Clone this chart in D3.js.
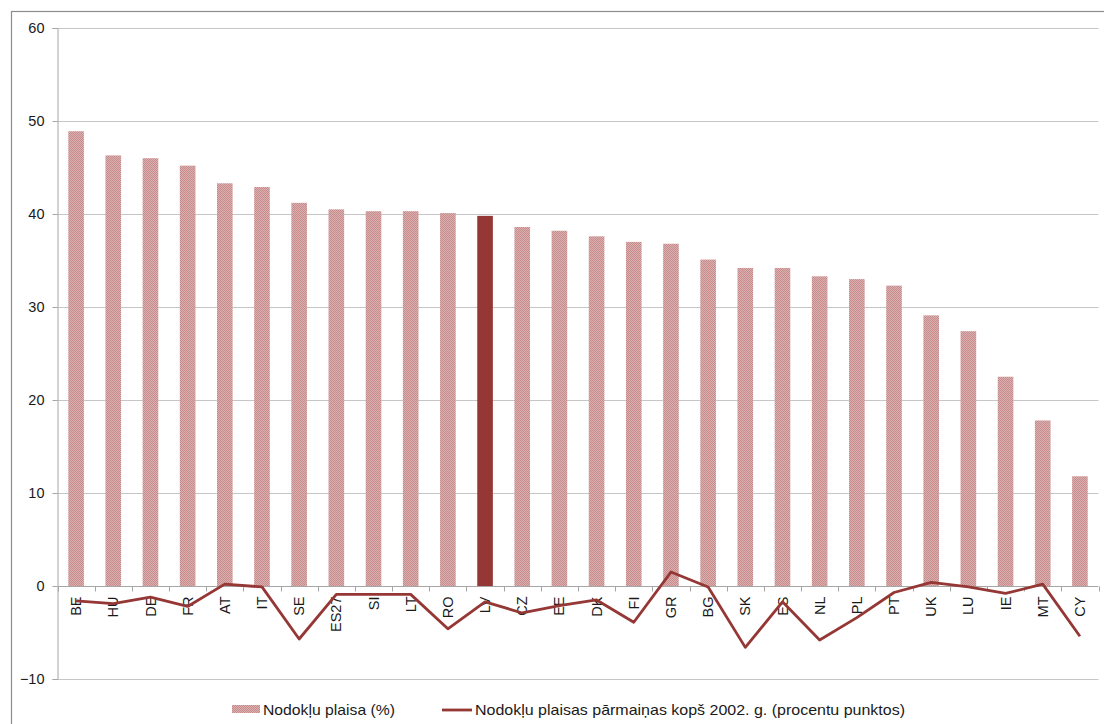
<!DOCTYPE html>
<html><head><meta charset="utf-8">
<script src="https://cdn.jsdelivr.net/npm/d3@7"></script>
<style>
html,body{margin:0;padding:0;background:#fff;}
svg{display:block;font-family:"Liberation Sans",Arial,sans-serif;}
</style></head>
<body>
<svg id="chart" width="1104" height="724"></svg>
<script>
const categories = ["BE","HU","DE","FR","AT","IT","SE","ES27","SI","LT","RO","LV","CZ","EE","DK","FI","GR","BG","SK","ES","NL","PL","PT","UK","LU","IE","MT","CY"];
const gapValues = [48.9,46.3,46.0,45.2,43.3,42.9,41.2,40.5,40.3,40.3,40.1,39.8,38.6,38.2,37.6,37.0,36.8,35.1,34.2,34.2,33.3,33.0,32.3,29.1,27.4,22.5,17.8,11.8];
const changeValues = [-1.6,-1.9,-1.2,-2.2,0.2,-0.1,-5.7,-0.9,-0.9,-0.9,-4.6,-1.7,-2.9,-2.1,-1.5,-3.9,1.5,-0.1,-6.6,-1.7,-5.8,-3.4,-0.7,0.4,-0.1,-0.8,0.2,-5.4];
const yTicks = [-10,0,10,20,30,40,50,60];
const highlight = "LV";
const legendLabels = ["Nodokļu plaisa (%)","Nodokļu plaisas pārmaiņas kopš 2002. g. (procentu punktos)"];

const svg = d3.select("#chart");
const m = {left:57.5, right:1098.5, top:28, bottom:679};
const x = d3.scaleBand().domain(categories).range([m.left, m.right]).paddingInner(0.58).paddingOuter(0.29);
const y = d3.scaleLinear().domain([-10,60]).range([m.bottom, m.top]);

const defs = svg.append("defs");
const pat = defs.append("pattern").attr("id","chk").attr("width",2).attr("height",2).attr("patternUnits","userSpaceOnUse");
pat.append("rect").attr("width",2).attr("height",2).attr("fill","#dbb0b0");
pat.append("rect").attr("width",1).attr("height",1).attr("fill","#c78b8b");
pat.append("rect").attr("x",1).attr("y",1).attr("width",1).attr("height",1).attr("fill","#c78b8b");

// outer frame
svg.append("rect").attr("x",11.5).attr("y",11.5).attr("width",1200).attr("height",800)
  .attr("fill","none").attr("stroke","#8c8c8c").attr("stroke-width",1.2);

// gridlines
svg.append("g").selectAll("line").data(yTicks.filter(d=>d!==0)).join("line")
  .attr("x1",m.left).attr("x2",m.right)
  .attr("y1",d=>Math.round(y(d))+0.5).attr("y2",d=>Math.round(y(d))+0.5)
  .attr("stroke","#c6c6c6").attr("stroke-width",1);

// y axis
const yAxis = svg.append("g").attr("transform",`translate(${m.left},0)`)
  .call(d3.axisLeft(y).tickValues(yTicks).tickSize(5).tickPadding(8).tickFormat(d3.format("d")));
yAxis.select(".domain").attr("stroke","#a6a6a6");
yAxis.selectAll(".tick line").attr("stroke","#a6a6a6");
yAxis.selectAll(".tick text").attr("font-size","14.5px").attr("fill","#1a1a1a").attr("font-family","Liberation Sans, Arial, sans-serif");
yAxis.selectAll(".tick").attr("transform",d=>`translate(0,${Math.round(y(d))+0.5})`);

// bars
svg.append("g").selectAll("rect").data(categories).join("rect")
  .attr("x",d=>x(d)).attr("width",x.bandwidth())
  .attr("y",(d,i)=>y(gapValues[i])).attr("height",(d,i)=>y(0)-y(gapValues[i]))
  .attr("fill",d=>d===highlight?"#953735":"url(#chk)");

// x axis at 0
const y0 = Math.round(y(0))+0.5;
svg.append("line").attr("x1",m.left).attr("x2",m.right).attr("y1",y0).attr("y2",y0).attr("stroke","#a6a6a6");
const bounds = d3.range(categories.length+1).map(i=>m.left + i*(m.right-m.left)/categories.length);
svg.append("g").selectAll("line").data(bounds).join("line")
  .attr("x1",d=>Math.round(d)+0.5).attr("x2",d=>Math.round(d)+0.5).attr("y1",y0).attr("y2",y0+5)
  .attr("stroke","#a6a6a6");

// x labels
svg.append("g").selectAll("text").data(categories).join("text")
  .attr("transform",d=>`translate(${x(d)+x.bandwidth()/2},${y0+10}) rotate(-90)`)
  .attr("text-anchor","end").attr("dy","0.35em")
  .attr("font-size","14.5px").attr("fill","#1a1a1a").text(d=>d);

// line
const line = d3.line().x((d,i)=>x(categories[i])+x.bandwidth()/2).y(d=>y(d));
svg.append("path").datum(changeValues).attr("d",line)
  .attr("fill","none").attr("stroke","#953735").attr("stroke-width",2.8).attr("stroke-linejoin","round");

// legend
const lg = svg.append("g");
lg.append("rect").attr("x",232).attr("y",705).attr("width",28).attr("height",8).attr("fill","url(#chk)");
lg.append("text").attr("x",263).attr("y",710).attr("dy","0.35em").attr("font-size","14.5px").attr("fill","#1a1a1a")
  .attr("textLength",132).attr("lengthAdjust","spacingAndGlyphs").text(legendLabels[0]);
lg.append("line").attr("x1",442).attr("x2",472).attr("y1",710).attr("y2",710).attr("stroke","#953735").attr("stroke-width",2.8);
lg.append("text").attr("x",475).attr("y",710).attr("dy","0.35em").attr("font-size","14.5px").attr("fill","#1a1a1a")
  .attr("textLength",430).attr("lengthAdjust","spacingAndGlyphs").text(legendLabels[1]);
</script>
</body></html>
